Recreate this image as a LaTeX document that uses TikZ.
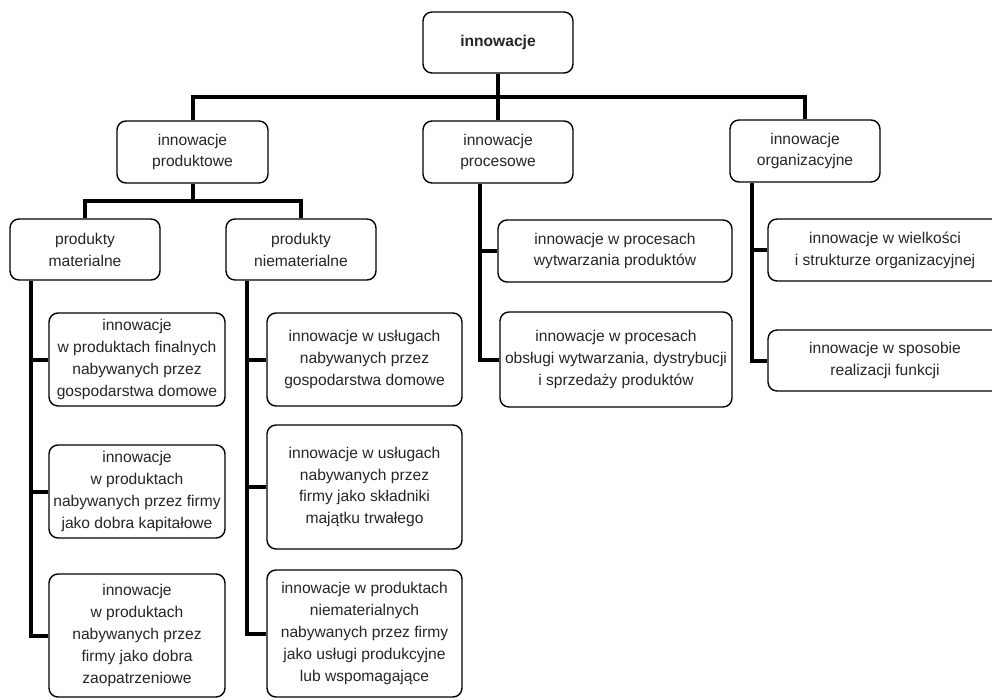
\documentclass[tikz,border=0pt]{standalone}
\usepackage{fontspec}
\setmainfont{Liberation Sans}
\usetikzlibrary{calc}
\begin{document}
\begin{tikzpicture}[x=1pt,y=-1pt,
  box/.style={draw=black, line width=1.4pt, rounded corners=9pt, align=center,
    inner sep=0pt, text=black!85,
    font=\fontsize{15.6}{21.9}\selectfont},
  conn/.style={draw=black, line width=4pt}]
\clip (0,0) rectangle (992,699);
\fill[white] (0,0) rectangle (992,699);
% nodes
\node[box, minimum width=150, minimum height=61, font=\fontsize{15.6}{21.9}\selectfont\bfseries] (root) at (498,42.5) {innowacje};
\node[box, minimum width=151, minimum height=62] (prod) at (192.5,152) {innowacje\\produktowe};
\node[box, minimum width=150, minimum height=62] (proc) at (498,152) {innowacje\\procesowe};
\node[box, minimum width=150, minimum height=62] (org) at (805,151) {innowacje\\organizacyjne};
\node[box, minimum width=150, minimum height=61] (mat) at (85,249.5) {produkty\\materialne};
\node[box, minimum width=150, minimum height=61] (niem) at (301,249.5) {produkty\\niematerialne};
\node[box, minimum width=176, minimum height=93] (m1) at (137,359.5) {innowacje\\w produktach finalnych\\nabywanych przez\\gospodarstwa domowe};
\node[box, minimum width=176, minimum height=93] (m2) at (137,491.5) {innowacje\\w produktach\\nabywanych przez firmy\\jako dobra kapitałowe};
\node[box, minimum width=176, minimum height=123] (m3) at (137,635.5) {innowacje\\w produktach\\nabywanych przez\\firmy jako dobra\\zaopatrzeniowe};
\node[box, minimum width=195, minimum height=93] (n1) at (364.5,359.5) {innowacje w usługach\\nabywanych przez\\gospodarstwa domowe};
\node[box, minimum width=195, minimum height=124] (n2) at (364.5,487) {innowacje w usługach\\nabywanych przez\\firmy jako składniki\\majątku trwałego};
\node[box, minimum width=195, minimum height=127] (n3) at (364.5,633.5) {innowacje w produktach\\niematerialnych\\nabywanych przez firmy\\jako usługi produkcyjne\\lub wspomagające};
\node[box, minimum width=234, minimum height=62] (p1) at (615,251) {innowacje w procesach\\wytwarzania produktów};
\node[box, minimum width=232, minimum height=95] (p2) at (616,359.5) {innowacje w procesach\\obsługi wytwarzania, dystrybucji\\i sprzedaży produktów};
\node[box, minimum width=234, minimum height=62] (o1) at (885,250) {innowacje w wielkości\\i strukturze organizacyjnej};
\node[box, minimum width=234, minimum height=61] (o2) at (885,360.5) {innowacje w sposobie\\realizacji funkcji};
% connectors
\coordinate (bus) at ($(root.south)!0.5!(proc.north)$);
\draw[conn] (root.south) -- (proc.north);
\draw[conn] (prod.north) |- (bus) -| (org.north);
\coordinate (sbus) at ($(prod.south)!0.5!(mat.north)$);
\draw[conn] (prod.south) -- (prod.south |- sbus);
\draw[conn] (mat.north) |- (sbus) -| (niem.north);
% spines
\coordinate (ms) at ([xshift=22]mat.south west);
\draw[conn] (ms) |- (m3.west);
\draw[conn] (ms |- m1.west) -- (m1.west);
\draw[conn] (ms |- m2.west) -- (m2.west);
\coordinate (ns) at ([xshift=22]niem.south west);
\draw[conn] (ns) |- (n3.west);
\draw[conn] (ns |- n1.west) -- (n1.west);
\draw[conn] (ns |- n2.west) -- (n2.west);
\coordinate (ps) at ([xshift=58]proc.south west);
\draw[conn] (ps) |- (p2.west);
\draw[conn] (ps |- p1.west) -- (p1.west);
\coordinate (os) at ([xshift=23]org.south west);
\draw[conn] (os) |- (o2.west);
\draw[conn] (os |- o1.west) -- (o1.west);
\end{tikzpicture}
\end{document}
